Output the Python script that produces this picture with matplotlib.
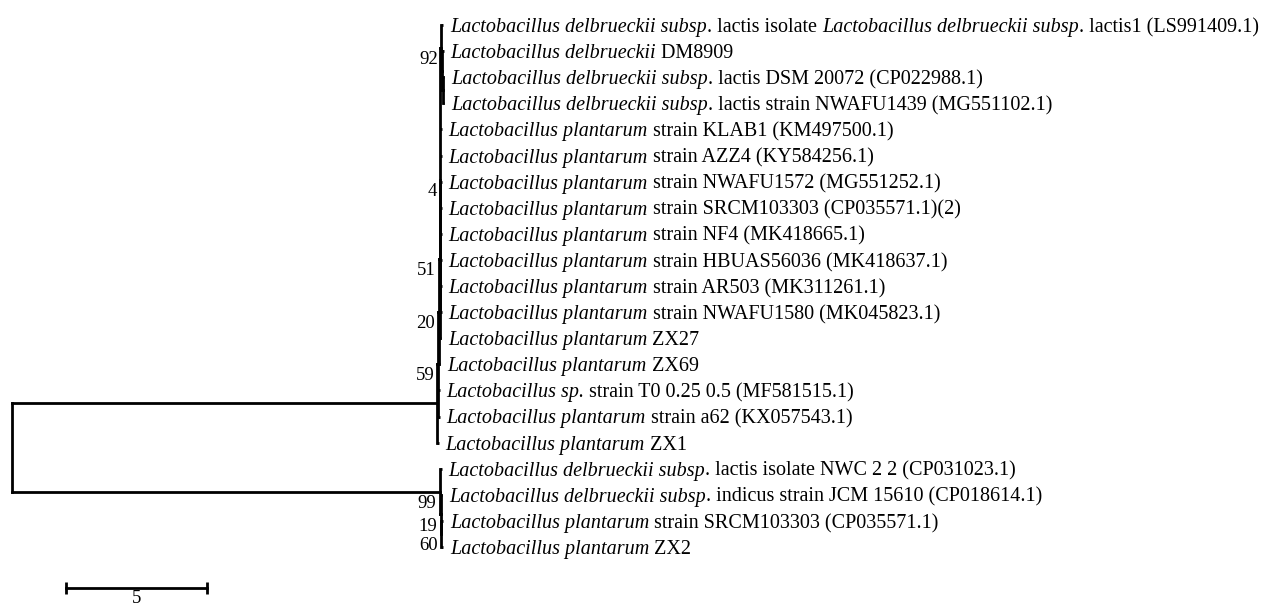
import matplotlib
matplotlib.use("Agg")
import matplotlib.pyplot as plt

# taxon names, one per row; text between * is set in italics
taxa = [
    "*Lactobacillus delbrueckii subsp*. lactis isolate *Lactobacillus delbrueckii subsp*. lactis1 (LS991409.1)",
    "*Lactobacillus delbrueckii* DM8909",
    "*Lactobacillus delbrueckii subsp*. lactis DSM 20072 (CP022988.1)",
    "*Lactobacillus delbrueckii subsp*. lactis strain NWAFU1439 (MG551102.1)",
    "*Lactobacillus plantarum* strain KLAB1 (KM497500.1)",
    "*Lactobacillus plantarum* strain AZZ4 (KY584256.1)",
    "*Lactobacillus plantarum* strain NWAFU1572 (MG551252.1)",
    "*Lactobacillus plantarum* strain SRCM103303 (CP035571.1)(2)",
    "*Lactobacillus plantarum* strain NF4 (MK418665.1)",
    "*Lactobacillus plantarum* strain HBUAS56036 (MK418637.1)",
    "*Lactobacillus plantarum* strain AR503 (MK311261.1)",
    "*Lactobacillus plantarum* strain NWAFU1580 (MK045823.1)",
    "*Lactobacillus plantarum* ZX27",
    "*Lactobacillus plantarum* ZX69",
    "*Lactobacillus sp.* strain T0 0.25 0.5 (MF581515.1)",
    "*Lactobacillus plantarum* strain a62 (KX057543.1)",
    "*Lactobacillus plantarum* ZX1",
    "*Lactobacillus delbrueckii subsp*. lactis isolate NWC 2 2 (CP031023.1)",
    "*Lactobacillus delbrueckii subsp*. indicus strain JCM 15610 (CP018614.1)",
    "*Lactobacillus plantarum* strain SRCM103303 (CP035571.1)",
    "*Lactobacillus plantarum* ZX2",
]

# tree nodes: (bootstrap, branch length, children); an int child is a leaf (row in taxa)
LEAF_LEN = 0.06
clade92 = (92, 0.05, [0, (None, 0.02, [1, (None, 0.02, [2, 3])])])
clade4 = (4, 0.02, [clade92, 4, 5, 6, 7, 8, 9, 10, 11])
clade51 = (51, 0.03, [clade4, 12])
clade20 = (20, 0.03, [clade51, 13])
clade59 = (59, 0.03, [clade20, 14, 15])
upper = (None, 15.07, [clade59, 16])
clade60 = (60, 0.02, [19, 20])
clade19 = (19, 0.02, [18, clade60])
lower = (99, 15.18, [17, clade19])
tree = (None, 0.0, [upper, lower])

scale_len = 5

PX_PER_UNIT = 28.2
ROW_PX = 26.1
TOP_PX = 25
W, H = 1268, 607
LW = 2.0
FONT = "Liberation Serif"
NAME_SIZE = 14.5
BS_SIZE = 13.5

fig = plt.figure(figsize=(W / 100, H / 100), dpi=100)
ax = fig.add_axes([0, 0, 1, 1])
ax.set_xlim(-12 / PX_PER_UNIT, (W - 12) / PX_PER_UNIT)
ax.set_ylim((H - TOP_PX) / ROW_PX, -TOP_PX / ROW_PX)
ax.axis("off")


def draw_name(i, x, y):
    parts = taxa[i].split("*")
    prev = None
    for k, part in enumerate(parts):
        if not part:
            continue
        style = "italic" if k % 2 == 1 else "normal"
        if prev is None:
            prev = ax.annotate(part, xy=(x, y), xytext=(5, 0), textcoords="offset points",
                               ha="left", va="center_baseline", fontsize=NAME_SIZE,
                               family=FONT, style=style)
        else:
            prev = ax.annotate(part, xy=(1, y), xycoords=(prev, "data"),
                               ha="left", va="center_baseline", fontsize=NAME_SIZE,
                               family=FONT, style=style)


def draw(node, x0):
    if isinstance(node, int):
        x1 = x0 + LEAF_LEN
        ax.plot([x0, x1], [node, node], color="black", lw=LW, solid_capstyle="butt")
        draw_name(node, x1, node)
        return node
    bs, bl, kids = node
    x1 = x0 + bl
    ys = [draw(k, x1) for k in kids]
    y = (ys[0] + ys[-1]) / 2
    ax.plot([x1, x1], [ys[0], ys[-1]], color="black", lw=LW, solid_capstyle="projecting")
    if bl > 0:
        ax.plot([x0, x1], [y, y], color="black", lw=LW, solid_capstyle="projecting")
    if bs is not None:
        ax.annotate(str(bs), xy=(x1, y), xytext=(-2.5, -8.5), textcoords="offset points",
                    ha="right", va="center", fontsize=BS_SIZE, family=FONT)
    return y


draw(tree, 0.0)

# scale bar
sb_x, sb_y = 1.9, 21.57
ax.plot([sb_x, sb_x + scale_len], [sb_y, sb_y], color="black", lw=LW,
        marker="|", markersize=9, markeredgewidth=LW)
ax.annotate(str(scale_len), xy=(sb_x + scale_len / 2, sb_y), xytext=(0, -1.5),
            textcoords="offset points", ha="center", va="top",
            fontsize=BS_SIZE, family=FONT)

fig.savefig("out.png", dpi=100)
